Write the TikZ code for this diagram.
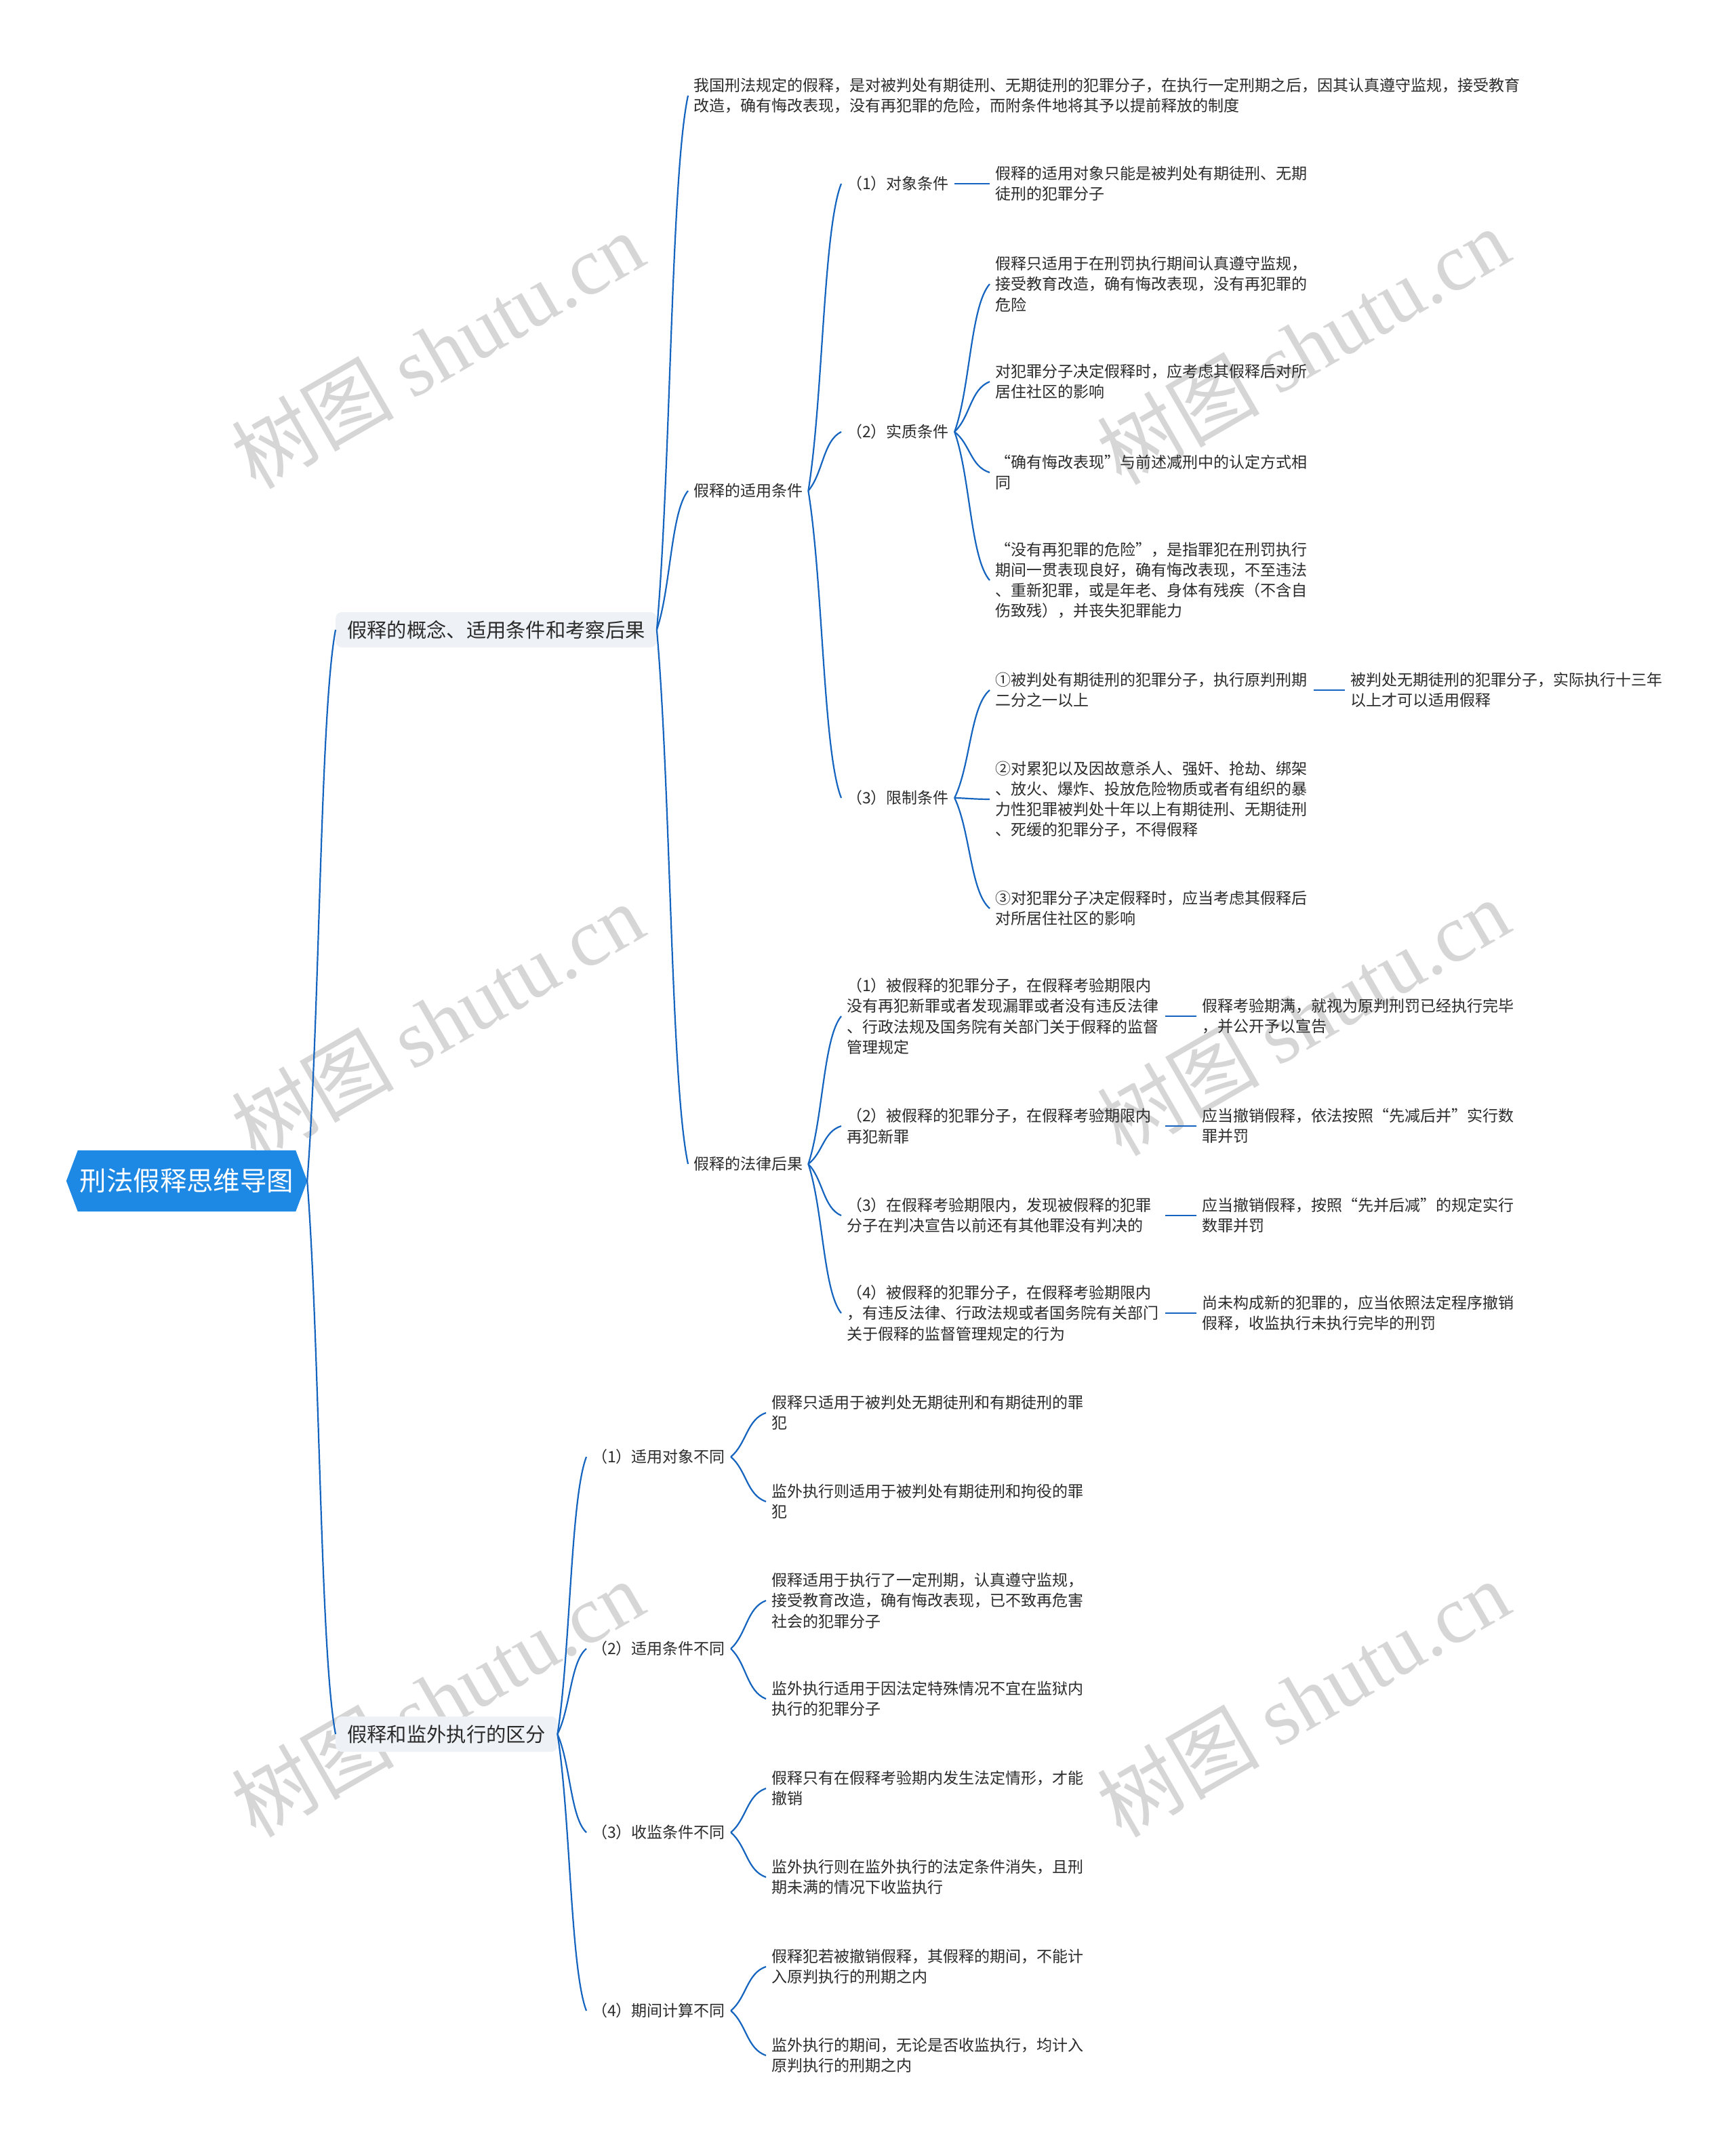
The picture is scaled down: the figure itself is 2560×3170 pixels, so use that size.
\documentclass[tikz,border=0pt]{standalone}
\usepackage{fontspec}
\setmainfont{Noto Sans CJK SC}
\newfontfamily\fwq[RawFeature=+fwid]{Noto Sans CJK SC}
\newfontfamily\wmserif{Liberation Serif}
\usetikzlibrary{calc,backgrounds}
\definecolor{linec}{HTML}{1565C0}
\definecolor{rootc}{HTML}{1E88E5}
\definecolor{boxc}{HTML}{EEF2F6}
\definecolor{txtc}{HTML}{2B2B2B}
\definecolor{wmc}{HTML}{D6D6D6}
\newcommand{\myqo}{{\fwq “}}
\newcommand{\myqc}{{\fwq ”}}
\tikzset{
  conn/.style={draw=linec, line width=2.2pt,
    to path={let \p1=(\tikztostart), \p2=(\tikztotarget) in
      .. controls ({(\x1)+0.45*((\x2)-(\x1))},{(\y1)+0.3*((\y2)-(\y1))})
      and ({(\x2)-0.55*((\x2)-(\x1))},{(\y2)-0.15*((\y2)-(\y1))}) .. (\tikztotarget)}},
  straight/.style={draw=linec, line width=2.2pt},
  base/.style={text=txtc, inner xsep=8pt, inner ysep=4pt, align=left, anchor=west,
    font=\fontsize{23}{30.3}\selectfont},
  wide/.style={base, text width=462pt},
  lvlone/.style={fill=boxc, rounded corners=9pt, text=txtc, inner xsep=17pt, inner ysep=4pt,
    minimum height=52pt, anchor=west, font=\fontsize{29.3}{35}\selectfont},
  rootn/.style={text=white, minimum width=355pt, minimum height=90pt, inner sep=0pt,
    font=\fontsize{39.4}{45}\selectfont},
  wm/.style={text=wmc, rotate=30, inner sep=0pt, font=\fontsize{120}{130}\selectfont}
}
\begin{document}
\begin{tikzpicture}[x=1pt, y=-1pt]
\useasboundingbox (0,0) rectangle (2560,3170);
\begin{scope}[on background layer]
  \fill[white] (0,0) rectangle (2560,3170);
  \node[wm] (wm1) at (645,516) {树图 {\wmserif shutu.cn}};
  \node[wm] (wm2) at (1922,510) {树图 {\wmserif shutu.cn}};
  \node[wm] (wm3) at (645,1506) {树图 {\wmserif shutu.cn}};
  \node[wm] (wm4) at (1922,1500) {树图 {\wmserif shutu.cn}};
  \node[wm] (wm5) at (645,2505) {树图 {\wmserif shutu.cn}};
  \node[wm] (wm6) at (1922,2505) {树图 {\wmserif shutu.cn}};
\end{scope}

% root
\node[rootn] (root) at (275.5,1742) {刑法假释思维导图};
\begin{scope}[on background layer]
  \fill[rootc] (root.west) -- ([xshift=17pt]root.north west) -- ([xshift=-17pt]root.north east)
    -- (root.east) -- ([xshift=-17pt]root.south east) -- ([xshift=17pt]root.south west) -- cycle;
\end{scope}

% level 1
\node[lvlone] (A) at (495,929) {假释的概念、适用条件和考察后果};
\node[lvlone] (B) at (495,2558) {假释和监外执行的区分};

% level 2 under A
\node[base] (A1) at (1015,141) {我国刑法规定的假释，是对被判处有期徒刑、无期徒刑的犯罪分子，在执行一定刑期之后，因其认真遵守监规，接受教育\\改造，确有悔改表现，没有再犯罪的危险，而附条件地将其予以提前释放的制度};
\node[base] (A2) at (1015,724) {假释的适用条件};
\node[base] (A3) at (1015,1717) {假释的法律后果};

% under A2
\node[base] (A21) at (1241,271) {（1）对象条件};
\node[base] (A22) at (1241,637) {（2）实质条件};
\node[base] (A23) at (1241,1177) {（3）限制条件};

\node[wide] (A21a) at (1460,271) {假释的适用对象只能是被判处有期徒刑、无期\\徒刑的犯罪分子};

\node[wide] (A22a) at (1460,419) {假释只适用于在刑罚执行期间认真遵守监规，\\接受教育改造，确有悔改表现，没有再犯罪的\\危险};
\node[wide] (A22b) at (1460,563) {对犯罪分子决定假释时，应考虑其假释后对所\\居住社区的影响};
\node[wide] (A22c) at (1460,697) {\myqo 确有悔改表现\myqc 与前述减刑中的认定方式相\\同};
\node[wide] (A22d) at (1460,856) {\myqo 没有再犯罪的危险\myqc ，是指罪犯在刑罚执行\\期间一贯表现良好，确有悔改表现，不至违法\\、重新犯罪，或是年老、身体有残疾（不含自\\伤致残），并丧失犯罪能力};

\node[wide] (A23a) at (1460,1018) {①被判处有期徒刑的犯罪分子，执行原判刑期\\二分之一以上};
\node[base] (A23a1) at (1984,1018) {被判处无期徒刑的犯罪分子，实际执行十三年\\以上才可以适用假释};
\node[wide] (A23b) at (1460,1179) {②对累犯以及因故意杀人、强奸、抢劫、绑架\\、放火、爆炸、投放危险物质或者有组织的暴\\力性犯罪被判处十年以上有期徒刑、无期徒刑\\、死缓的犯罪分子，不得假释};
\node[wide] (A23c) at (1460,1340) {③对犯罪分子决定假释时，应当考虑其假释后\\对所居住社区的影响};

% under A3
\node[wide] (A31) at (1241,1499) {（1）被假释的犯罪分子，在假释考验期限内\\没有再犯新罪或者发现漏罪或者没有违反法律\\、行政法规及国务院有关部门关于假释的监督\\管理规定};
\node[wide] (A32) at (1241,1661) {（2）被假释的犯罪分子，在假释考验期限内\\再犯新罪};
\node[wide] (A33) at (1241,1793) {（3）在假释考验期限内，发现被假释的犯罪\\分子在判决宣告以前还有其他罪没有判决的};
\node[wide] (A34) at (1241,1937) {（4）被假释的犯罪分子，在假释考验期限内\\，有违反法律、行政法规或者国务院有关部门\\关于假释的监督管理规定的行为};

\node[base] (A31a) at (1765,1499) {假释考验期满，就视为原判刑罚已经执行完毕\\，并公开予以宣告};
\node[base] (A32a) at (1765,1661) {应当撤销假释，依法按照\myqo 先减后并\myqc 实行数\\罪并罚};
\node[base] (A33a) at (1765,1793) {应当撤销假释，按照\myqo 先并后减\myqc 的规定实行\\数罪并罚};
\node[base] (A34a) at (1765,1937) {尚未构成新的犯罪的，应当依照法定程序撤销\\假释，收监执行未执行完毕的刑罚};

% under B
\node[base] (B1) at (865,2149) {（1）适用对象不同};
\node[base] (B2) at (865,2432) {（2）适用条件不同};
\node[base] (B3) at (865,2703) {（3）收监条件不同};
\node[base] (B4) at (865,2966) {（4）期间计算不同};

\node[base] (B1a) at (1130,2084) {假释只适用于被判处无期徒刑和有期徒刑的罪\\犯};
\node[base] (B1b) at (1130,2215) {监外执行则适用于被判处有期徒刑和拘役的罪\\犯};
\node[base] (B2a) at (1130,2361) {假释适用于执行了一定刑期，认真遵守监规，\\接受教育改造，确有悔改表现，已不致再危害\\社会的犯罪分子};
\node[base] (B2b) at (1130,2506) {监外执行适用于因法定特殊情况不宜在监狱内\\执行的犯罪分子};
\node[base] (B3a) at (1130,2638) {假释只有在假释考验期内发生法定情形，才能\\撤销};
\node[base] (B3b) at (1130,2769) {监外执行则在监外执行的法定条件消失，且刑\\期未满的情况下收监执行};
\node[base] (B4a) at (1130,2901) {假释犯若被撤销假释，其假释的期间，不能计\\入原判执行的刑期之内};
\node[base] (B4b) at (1130,3032) {监外执行的期间，无论是否收监执行，均计入\\原判执行的刑期之内};

% connectors
\draw[conn] (root.east) to (A.west);
\draw[conn] (root.east) to (B.west);

\draw[conn] (A.east) to (A1.west);
\draw[conn] (A.east) to (A2.west);
\draw[conn] (A.east) to (A3.west);

\draw[conn] (A2.east) to (A21.west);
\draw[conn] (A2.east) to (A22.west);
\draw[conn] (A2.east) to (A23.west);

\draw[straight] (A21.east) -- (A21a.west);
\draw[conn] (A22.east) to (A22a.west);
\draw[conn] (A22.east) to (A22b.west);
\draw[conn] (A22.east) to (A22c.west);
\draw[conn] (A22.east) to (A22d.west);

\draw[conn] (A23.east) to (A23a.west);
\draw[conn] (A23.east) to (A23b.west);
\draw[conn] (A23.east) to (A23c.west);
\draw[straight] (A23a.east) -- (A23a1.west);

\draw[conn] (A3.east) to (A31.west);
\draw[conn] (A3.east) to (A32.west);
\draw[conn] (A3.east) to (A33.west);
\draw[conn] (A3.east) to (A34.west);
\draw[straight] (A31.east) -- (A31a.west);
\draw[straight] (A32.east) -- (A32a.west);
\draw[straight] (A33.east) -- (A33a.west);
\draw[straight] (A34.east) -- (A34a.west);

\draw[conn] (B.east) to (B1.west);
\draw[conn] (B.east) to (B2.west);
\draw[conn] (B.east) to (B3.west);
\draw[conn] (B.east) to (B4.west);

\draw[conn] (B1.east) to (B1a.west);
\draw[conn] (B1.east) to (B1b.west);
\draw[conn] (B2.east) to (B2a.west);
\draw[conn] (B2.east) to (B2b.west);
\draw[conn] (B3.east) to (B3a.west);
\draw[conn] (B3.east) to (B3b.west);
\draw[conn] (B4.east) to (B4a.west);
\draw[conn] (B4.east) to (B4b.west);
\end{tikzpicture}
\end{document}
